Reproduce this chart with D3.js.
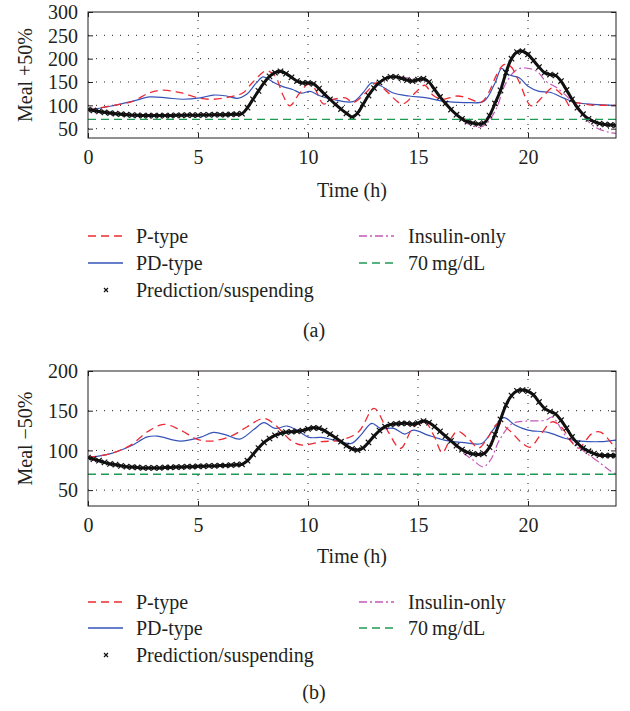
<!DOCTYPE html>
<html>
<head>
  <script src="https://d3js.org/d3.v7.min.js"></script>
  <style>
    body { margin: 0; background: #fff; }
    svg text { font-family: "Liberation Serif", "Times New Roman", serif; }
    .tick text { fill: #231f20; }
    .tick line { stroke: #231f20; }
    .label { font-size: 20px; fill: #231f20; }
    .grid { stroke: #231f20; stroke-width: 1; stroke-dasharray: 1,7; }
    .frame { fill: none; stroke: #231f20; stroke-width: 1; }
    .curve { fill: none; }
  </style>
</head>
<body>
<svg id="chart" width="630" height="711"></svg>
<script>
// time ticks (h)
var xTicks = [0, 5, 10, 15, 20];

// ---------- panel (a): meal +50% ----------
var yTicksA = [50, 100, 150, 200, 250, 300];
// prediction/suspending, one value every 0.25 h from 0 to 24
var predA = [
  91, 89, 87, 85, 83.5, 82, 81, 80,
  79, 78.5, 78, 78, 78, 78, 78, 78,
  78.5, 78.5, 79, 79, 79, 79.5, 79.5, 80,
  80, 80, 80.5, 81, 82, 95, 113, 131,
  148, 162, 170, 173, 168, 160, 152, 148,
  148, 146, 136, 124, 113, 102, 92, 83,
  75, 83, 102, 121, 137, 149, 157, 161,
  161, 158, 154, 152, 155, 157, 150, 134,
  118, 104, 91, 80, 71, 65, 62, 60,
  62, 78, 104, 132, 170, 200, 214, 216,
  209, 196, 182, 170, 166, 164, 152, 133,
  113, 95, 81, 71, 65, 61, 59, 58,
  57
];
var pTimeA = [0, 1, 2, 2.8, 3.4, 4.2, 5.1, 5.7, 6.45, 7.05, 7.5, 8.1, 8.5, 8.86, 9.17, 9.6, 10.0, 10.3, 10.7, 11.1, 11.7, 12.05, 12.65, 13.1, 13.55, 14.3, 14.9, 15.3, 15.7, 16.1, 16.8, 17.35, 17.85, 18.2, 18.6, 18.9, 19.2, 19.6, 20.15, 20.7, 21.1, 21.6, 21.9, 22.2, 22.8, 24];
var pValA  = [90, 98.5, 108, 127, 132.5, 127, 115, 113, 118, 127, 150, 174, 163, 122, 99, 125, 145, 136, 103, 112, 116, 106, 128, 148, 131, 103, 128, 143, 121, 113, 120, 114, 106, 126, 168, 187, 184, 150, 99, 120, 137, 120, 99, 105, 101, 100];
var pdTimeA = [0, 1, 2.05, 2.8, 3.56, 4.3, 5.1, 5.7, 6.3, 6.8, 7.2, 7.65, 7.95, 8.1, 8.4, 8.86, 9.3, 9.7, 10.1, 10.5, 11.1, 12.05, 12.5, 12.9, 13.3, 13.85, 14.6, 15.4, 16.1, 17.2, 18.0, 18.5, 18.8, 19.1, 19.6, 20.0, 20.5, 21.0, 21.6, 22.2, 22.95, 24];
var pdValA  = [90, 98, 109, 118, 116, 113, 116, 122, 120, 115, 123, 148, 161, 159, 150, 140, 134, 126, 130, 121, 113, 108, 127, 148, 142, 127, 120, 116, 109, 106, 109, 148, 179, 166, 159, 141, 130, 128, 116, 106, 102, 100];
var insTimeA = [0, 1, 2, 4, 6, 7, 7.5, 8, 8.5, 9, 9.5, 10, 10.5, 11, 11.5, 12, 12.5, 13, 13.5, 14, 15, 15.5, 16, 16.5, 17.2, 17.8, 18.1, 18.55, 19.0, 19.5, 19.9, 20.4, 20.8, 21.3, 21.9, 22.5, 23.1, 23.7, 24];
var insValA  = [91, 83.5, 79, 78.5, 80, 82, 113, 148, 170, 168, 152, 148, 136, 113, 92, 75, 102, 137, 157, 161, 155, 150, 118, 91, 62, 53, 60, 92, 148, 177, 180, 173, 152, 138, 113, 77, 52, 42, 40];

// ---------- panel (b): meal -50% ----------
var yTicksB = [50, 100, 150, 200];
var predB = [
  91, 89, 87, 85, 83, 82, 80.5, 79.5,
  79, 78.5, 78, 78, 78, 78, 78.5, 78.5,
  79, 79, 79.5, 79.5, 80, 80, 80.5, 80.5,
  81, 81, 81.5, 82, 82.5, 87, 95, 103,
  110, 115, 119, 121.5, 123, 123.5, 124, 125,
  127, 128.5, 128, 125, 120.5, 116, 111, 106,
  102, 100.5, 103, 110, 118, 125, 130, 132.5,
  133.5, 134, 134, 133, 134.5, 137, 135, 130,
  124, 118, 112, 106, 101, 97.5, 95.5, 95,
  96, 104, 120, 139, 157, 169, 175, 176,
  174.5, 170, 161, 153, 149, 146, 138, 128,
  117, 109, 103, 99, 96, 94, 93.5, 93.5,
  93.5
];
var pTimeB = [0, 1.03, 1.94, 2.7, 3.45, 4.2, 4.97, 5.6, 6.5, 7.24, 8.0, 8.6, 9.2, 9.74, 10.6, 11.5, 12.3, 13.0, 13.6, 14.2, 14.8, 15.3, 15.75, 16.1, 16.45, 16.8, 17.35, 17.75, 18.15, 18.65, 19.2, 19.7, 20.1, 20.6, 21.1, 21.5, 22.0, 22.3, 22.9, 23.3, 24];
var pValB  = [91, 96, 106.7, 123.5, 132.8, 125.6, 113.9, 111.8, 118, 129.8, 140.3, 129.8, 113, 106.7, 111, 113, 123.5, 153, 125.6, 102.5, 129.8, 136, 117, 97, 113, 124, 113, 103, 115, 134, 124, 110, 104, 121, 136, 130, 110, 103, 121, 123, 101];
var pdTimeB = [0, 1.03, 1.94, 2.7, 3.15, 4.2, 5.1, 5.7, 6.3, 6.9, 7.55, 8.0, 8.5, 9.06, 9.5, 10.05, 10.6, 11.2, 11.97, 12.4, 12.9, 13.3, 13.9, 14.4, 14.8, 15.45, 16.2, 17.1, 17.9, 18.4, 18.9, 19.4, 20.0, 20.9, 21.7, 22.4, 23.3, 24];
var pdValB  = [91, 96, 105.5, 117, 118, 111.8, 116.4, 122.7, 119.3, 114.3, 126.5, 134.9, 127.7, 130.7, 125.6, 116.4, 116.4, 113, 108.8, 119.3, 134, 127.7, 127.7, 120.6, 125.6, 119.3, 113, 109.7, 108.8, 125.6, 141.2, 132, 125.6, 122.7, 115, 111.8, 111, 113];
var insTimeB = [0, 1, 2, 4, 6, 7, 7.5, 8, 8.5, 9, 10, 10.5, 11, 11.5, 12, 12.5, 13, 13.5, 14, 15, 15.5, 16, 16.5, 16.9, 17.5, 17.95, 18.3, 18.7, 19.3, 19.9, 20.8, 21.1, 21.75, 22.5, 23.3, 23.7, 24];
var insValB  = [91, 83, 79, 79, 81, 82.5, 95, 110, 119, 123, 127, 128, 120.5, 111, 102, 103, 118, 130, 133.5, 134.5, 135, 124, 112, 100, 88, 79.4, 88, 113, 134, 137, 138, 142, 117, 100, 83.6, 75, 70];

var hypoLevel = 70;

var legendItems = ["P-type", "PD-type", "Prediction/suspending", "Insulin-only", "70\u2009mg/dL"];

var colors = { p: "#ee2a32", pd: "#3553b8", ins: "#c458b8", hypo: "#1f9a55", pred: "#111" };
var serif = "'Liberation Serif', 'Times New Roman', serif";

var svg = d3.select("#chart");
var left = 88, right = 616;
var step = 0.25;

function drawPanel(p) {
  var g = svg.append("g");
  var x = d3.scaleLinear().domain([0, 24]).range([left, right]);
  var y = d3.scaleLinear().domain(p.yDomain).range([p.bottom, p.top]);

  var clipId = "clip" + p.name;
  g.append("clipPath").attr("id", clipId)
    .append("rect")
    .attr("x", left).attr("y", p.top)
    .attr("width", right - left).attr("height", p.bottom - p.top);

  // dotted grid
  g.selectAll(".gx").data(xTicks.slice(1)).enter().append("line")
    .attr("class", "grid")
    .attr("x1", d => x(d)).attr("x2", d => x(d))
    .attr("y1", p.top).attr("y2", p.bottom);
  g.selectAll(".gy").data(p.yTicks.filter(d => d < p.yDomain[1])).enter().append("line")
    .attr("class", "grid")
    .attr("y1", d => y(d)).attr("y2", d => y(d))
    .attr("x1", left).attr("x2", right);

  var plot = g.append("g").attr("clip-path", "url(#" + clipId + ")");

  var line = d3.line()
    .x(d => x(d[0]))
    .y(d => y(d[1]))
    .curve(d3.curveCatmullRom.alpha(0.5));

  var ins = p.insT.map((t, i) => [t, p.insV[i]]);
  var pt = p.pT.map((t, i) => [t, p.pV[i]]);
  var pd = p.pdT.map((t, i) => [t, p.pdV[i]]);
  var pr = p.pred.map((v, i) => [i * step, v]);

  plot.append("path").attr("class", "curve")
    .attr("d", line(ins))
    .attr("stroke", colors.ins).attr("stroke-width", 1.2)
    .attr("stroke-dasharray", "8,3,2,3");

  plot.append("path").attr("class", "curve")
    .attr("d", line(pd))
    .attr("stroke", colors.pd).attr("stroke-width", 1.2);

  plot.append("path").attr("class", "curve")
    .attr("d", line(pt))
    .attr("stroke", colors.p).attr("stroke-width", 1.3)
    .attr("stroke-dasharray", "8,5");

  // prediction/suspending: dense x markers that merge into a band
  plot.append("path").attr("class", "curve")
    .attr("d", line(pr))
    .attr("stroke", colors.pred).attr("stroke-width", 3);
  plot.selectAll(".mk").data(pr).enter().append("path")
    .attr("transform", d => "translate(" + x(d[0]) + "," + y(d[1]) + ")")
    .attr("d", "M-2.7,-2.7L2.7,2.7M-2.7,2.7L2.7,-2.7")
    .attr("stroke", colors.pred).attr("stroke-width", 1.2);

  plot.append("line")
    .attr("x1", x(0)).attr("x2", x(24))
    .attr("y1", y(hypoLevel)).attr("y2", y(hypoLevel))
    .attr("stroke", colors.hypo).attr("stroke-width", 1.3)
    .attr("stroke-dasharray", "8,5");

  // axes with inward ticks
  var ax = g.append("g").attr("transform", "translate(0," + p.bottom + ")")
    .call(d3.axisBottom(x).tickValues(xTicks).tickSizeInner(-5).tickSizeOuter(0).tickPadding(12));
  var ay = g.append("g").attr("transform", "translate(" + left + ",0)")
    .call(d3.axisLeft(y).tickValues(p.yTicks).tickSizeInner(-5).tickSizeOuter(0).tickPadding(10));
  var axt = g.append("g").attr("transform", "translate(0," + p.top + ")")
    .call(d3.axisTop(x).tickValues(xTicks).tickSizeInner(-5).tickSizeOuter(0).tickFormat(""));
  var ayr = g.append("g").attr("transform", "translate(" + right + ",0)")
    .call(d3.axisRight(y).tickValues(p.yTicks).tickSizeInner(-5).tickSizeOuter(0).tickFormat(""));
  [ax, ay, axt, ayr].forEach(a => {
    a.select(".domain").remove();
    a.attr("font-family", serif).attr("font-size", 20);
  });
  ax.selectAll("text").attr("fill", "#231f20");
  ay.selectAll("text").attr("fill", "#231f20").attr("dy", "0.34em");

  g.append("rect").attr("class", "frame")
    .attr("x", left).attr("y", p.top)
    .attr("width", right - left).attr("height", p.bottom - p.top);

  // titles
  g.append("text").attr("class", "label")
    .attr("font-family", serif)
    .attr("text-anchor", "middle")
    .attr("transform", "translate(32," + ((p.top + p.bottom) / 2) + ") rotate(-90)")
    .text(p.yTitle);
  g.append("text").attr("class", "label")
    .attr("font-family", serif)
    .attr("text-anchor", "middle")
    .attr("x", (left + right) / 2).attr("y", p.xTitleY)
    .text("Time (h)");

  // legend
  var lg = g.append("g");
  var rows = p.legendRows;
  function sample(xx, yy, color, dash) {
    lg.append("line").attr("x1", xx).attr("x2", xx + 35)
      .attr("y1", yy).attr("y2", yy)
      .attr("stroke", color).attr("stroke-width", 1.3)
      .attr("stroke-dasharray", dash);
  }
  sample(88, rows[0], colors.p, "8,5");
  sample(88, rows[1], colors.pd, null);
  lg.append("path").attr("transform", "translate(106," + rows[2] + ")")
    .attr("d", "M-2,-2L2,2M-2,2L2,-2").attr("stroke", colors.pred).attr("stroke-width", 1.2);
  sample(359, rows[0], colors.ins, "8,3,2,3");
  sample(359, rows[1], colors.hypo, "8,5");
  var pos = [[136, 0], [136, 1], [136, 2], [408, 0], [408, 1]];
  legendItems.forEach(function(t, i) {
    lg.append("text").attr("class", "label")
      .attr("font-family", serif)
      .attr("x", pos[i][0]).attr("y", rows[pos[i][1]] + 6.5)
      .text(t);
  });
  g.append("text").attr("class", "label")
    .attr("font-family", serif)
    .attr("text-anchor", "middle")
    .attr("x", 314).attr("y", p.capY)
    .text(p.caption);
}

drawPanel({
  name: "a", top: 12, bottom: 138, yDomain: [30, 300], yTicks: yTicksA,
  pred: predA, pT: pTimeA, pV: pValA, pdT: pdTimeA, pdV: pdValA, insT: insTimeA, insV: insValA,
  yTitle: "Meal +50%", xTitleY: 197, legendRows: [236, 263, 290], capY: 337, caption: "(a)"
});
drawPanel({
  name: "b", top: 371, bottom: 506, yDomain: [30, 200], yTicks: yTicksB,
  pred: predB, pT: pTimeB, pV: pValB, pdT: pdTimeB, pdV: pdValB, insT: insTimeB, insV: insValB,
  yTitle: "Meal \u221250%", xTitleY: 563, legendRows: [602, 628, 655], capY: 699, caption: "(b)"
});
</script>
</body>
</html>
